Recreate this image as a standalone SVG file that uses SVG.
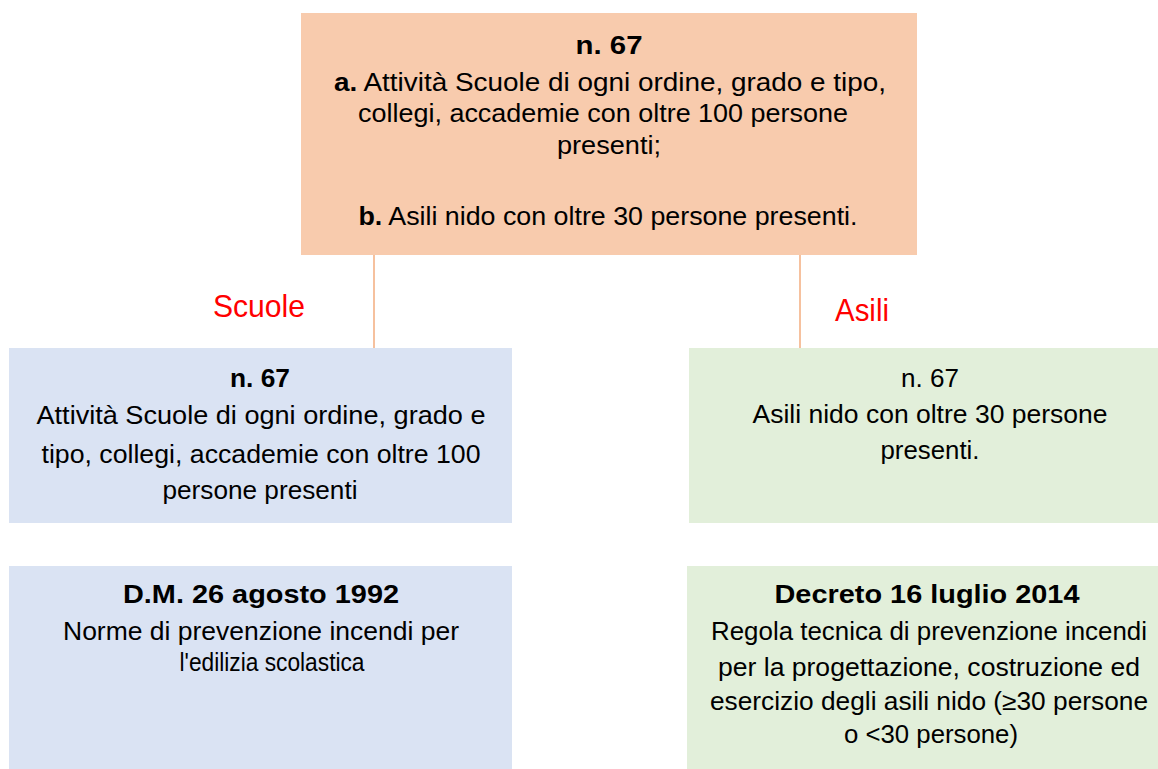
<svg xmlns="http://www.w3.org/2000/svg" width="1158" height="769" viewBox="0 0 1158 769">
<style>
text{font-family:"Liberation Sans","DejaVu Sans",sans-serif;font-size:25px;fill:#000;text-anchor:middle}
.b{font-weight:bold}
.lbl{fill:#FF0000;font-size:32px}
.top{fill:#F8CBAD}
.blue{fill:#DAE3F3}
.green{fill:#E2EFDA}
.conn{stroke:#F2A06A;stroke-width:1.3;fill:none}
</style>
<rect width="1158" height="769" fill="#fff"/>
<g id="connectors">
<line class="conn" x1="374" y1="255" x2="374" y2="350"/>
<line class="conn" x1="800" y1="255" x2="800" y2="348"/>
</g>
<g id="label-scuole"><text class="lbl" x="259" y="317" textLength="92" lengthAdjust="spacingAndGlyphs">Scuole</text></g>
<g id="label-asili"><text class="lbl" x="862" y="321" textLength="54" lengthAdjust="spacingAndGlyphs">Asili</text></g>
<g id="node-top">
<rect class="top" x="301" y="13" width="616" height="242"/>
<text class="b" x="609" y="54" textLength="67" lengthAdjust="spacingAndGlyphs">n. 67</text>
<text x="610" y="91" textLength="552" lengthAdjust="spacingAndGlyphs"><tspan class="b">a.</tspan> Attività Scuole di ogni ordine, grado e tipo,</text>
<text x="603" y="122" textLength="490" lengthAdjust="spacingAndGlyphs">collegi, accademie con oltre 100 persone</text>
<text x="609" y="154" textLength="104" lengthAdjust="spacingAndGlyphs">presenti;</text>
<text x="608" y="225" textLength="499" lengthAdjust="spacingAndGlyphs"><tspan class="b">b.</tspan> Asili nido con oltre 30 persone presenti.</text>
</g>
<g id="node-scuole">
<rect class="blue" x="9" y="348" width="503" height="175"/>
<text class="b" x="260" y="387" textLength="60" lengthAdjust="spacingAndGlyphs">n. 67</text>
<text x="261" y="424" textLength="449" lengthAdjust="spacingAndGlyphs">Attività Scuole di ogni ordine, grado e</text>
<text x="261" y="463" textLength="439" lengthAdjust="spacingAndGlyphs">tipo, collegi, accademie con oltre 100</text>
<text x="260" y="499" textLength="195" lengthAdjust="spacingAndGlyphs">persone presenti</text>
</g>
<g id="node-asili">
<rect class="green" x="689" y="348" width="469" height="175"/>
<text x="930" y="387" textLength="58" lengthAdjust="spacingAndGlyphs">n. 67</text>
<text x="930" y="423" textLength="355" lengthAdjust="spacingAndGlyphs">Asili nido con oltre 30 persone</text>
<text x="930" y="459" textLength="99" lengthAdjust="spacingAndGlyphs">presenti.</text>
</g>
<g id="node-dm1992">
<rect class="blue" x="9" y="566" width="503" height="203"/>
<text class="b" x="261" y="603" textLength="276" lengthAdjust="spacingAndGlyphs">D.M. 26 agosto 1992</text>
<text x="261" y="640" textLength="396" lengthAdjust="spacingAndGlyphs">Norme di prevenzione incendi per</text>
<text x="272" y="671" textLength="185" lengthAdjust="spacingAndGlyphs">l'edilizia scolastica</text>
</g>
<g id="node-decreto2014">
<rect class="green" x="687" y="566" width="471" height="203"/>
<text class="b" x="927" y="603" textLength="305" lengthAdjust="spacingAndGlyphs">Decreto 16 luglio 2014</text>
<text x="929" y="640" textLength="436" lengthAdjust="spacingAndGlyphs">Regola tecnica di prevenzione incendi</text>
<text x="929" y="676" textLength="422" lengthAdjust="spacingAndGlyphs">per la progettazione, costruzione ed</text>
<text x="929" y="710" textLength="438" lengthAdjust="spacingAndGlyphs">esercizio degli asili nido (≥30 persone</text>
<text x="931" y="743" textLength="174" lengthAdjust="spacingAndGlyphs">o &lt;30 persone)</text>
</g>
</svg>
